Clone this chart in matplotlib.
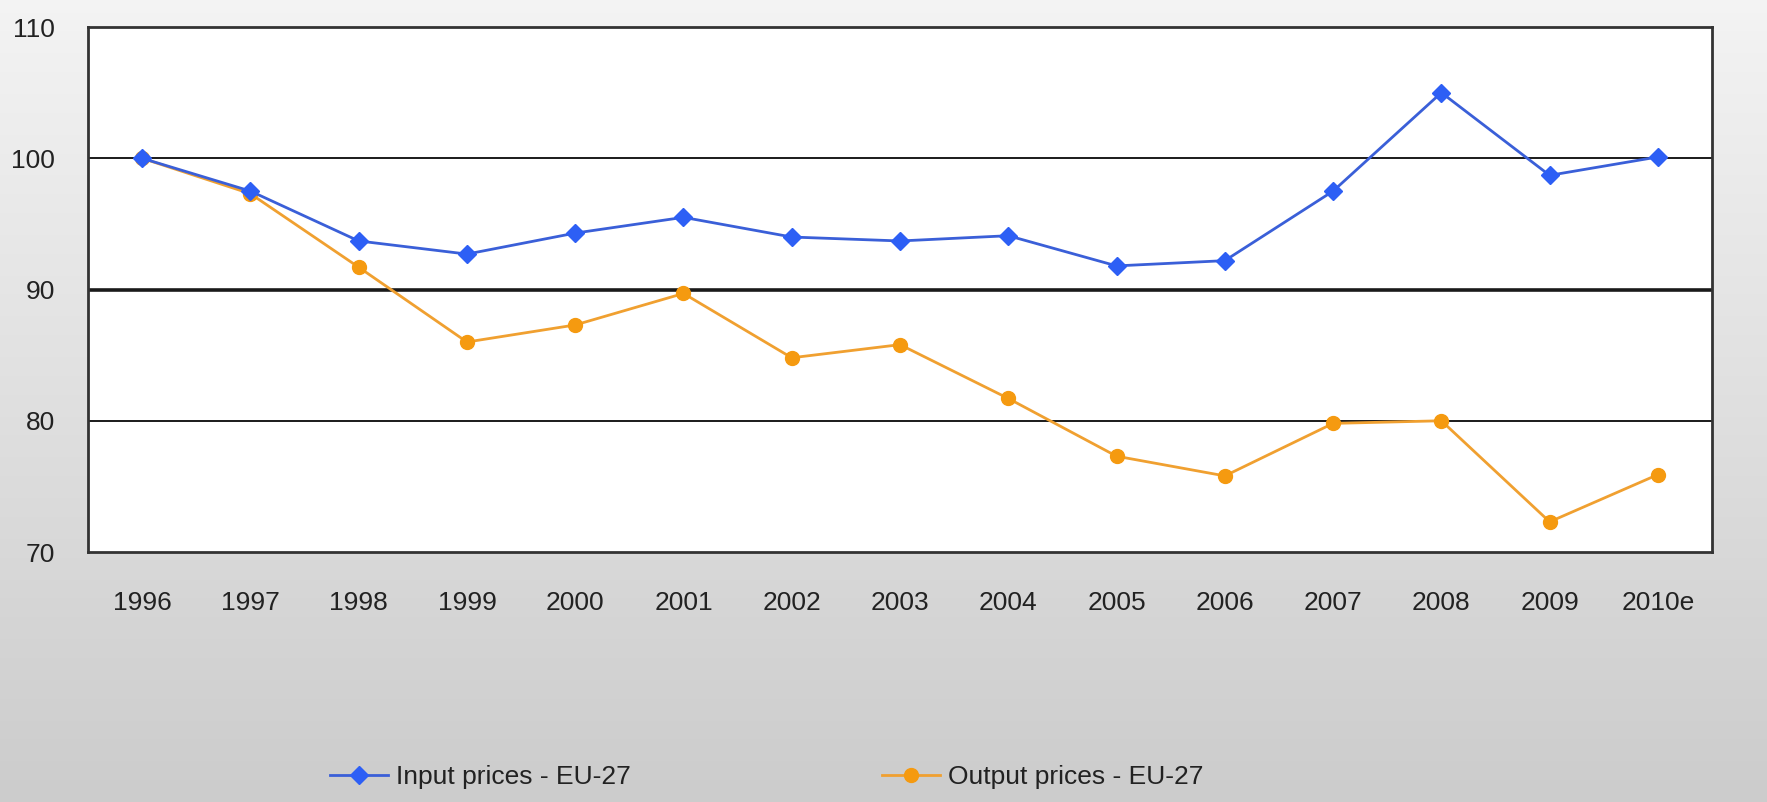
import numpy as np
import matplotlib
matplotlib.use("Agg")
import matplotlib.pyplot as plt
from matplotlib import font_manager

years = ["1996", "1997", "1998", "1999", "2000", "2001", "2002", "2003",
         "2004", "2005", "2006", "2007", "2008", "2009", "2010e"]
input_prices = [100.0, 97.5, 93.7, 92.7, 94.3, 95.5, 94.0, 93.7, 94.1,
                91.8, 92.2, 97.5, 105.0, 98.7, 100.1]
output_prices = [100.0, 97.3, 91.7, 86.0, 87.3, 89.7, 84.8, 85.8, 81.7,
                 77.3, 75.8, 79.8, 80.0, 72.3, 75.9]
y_ticks = [70, 80, 90, 100, 110]

names = {f.name for f in font_manager.fontManager.ttflist}
fam = ["Liberation Sans Narrow", "Liberation Sans", "DejaVu Sans"]
fam = [f for f in fam if f in names] or ["DejaVu Sans"]
plt.rcParams["font.family"] = fam

fig = plt.figure(figsize=(17.67, 8.02), dpi=100)

# background gradient
bg = fig.add_axes([0, 0, 1, 1], zorder=-10)
grad = np.linspace(0, 1, 256).reshape(-1, 1)
top = np.array([0.955, 0.955, 0.955])
bot = np.array([0.80, 0.80, 0.80])
img = top + (bot - top) * grad[..., None]
img = np.repeat(img, 2, axis=1)
bg.imshow(img, aspect="auto", extent=[0, 1, 0, 1], origin="upper")
bg.set_axis_off()

ax = fig.add_axes([0.0498, 0.3117, 0.9191, 0.6546])
ax.set_facecolor("white")
x = np.arange(len(years))

ax.plot(x, input_prices, color="#3a5fd8", lw=2.0, marker="D", ms=9,
        mfc="#2d5ff5", mec="#2d5ff5", label="Input prices - EU-27", zorder=4)
ax.plot(x, output_prices, color="#f0a030", lw=2.0, marker="o", ms=10,
        mfc="#f59a10", mec="#f59a10", label="Output prices - EU-27", zorder=3)

ax.set_xlim(-0.5, len(years) - 0.5)
ax.set_ylim(70, 110)
ax.set_yticks(y_ticks)
ax.set_xticks(x)
ax.set_xticklabels(years)
ax.tick_params(axis="both", length=0, labelsize=19, colors="#222222")
ax.tick_params(axis="y", pad=24)
ax.tick_params(axis="x", pad=28)
for t in y_ticks[1:-1]:
    ax.axhline(t, color="#1a1a1a", lw=2.6 if t == 90 else 1.4, zorder=1)
for s in ax.spines.values():
    s.set_color("#333333")
    s.set_linewidth(2.0)

leg = ax.legend(loc="upper center", bbox_to_anchor=(0.418, -0.36), ncol=2,
                frameon=False, fontsize=19, columnspacing=9.5,
                handlelength=2.2, handletextpad=0.3)
for t in leg.get_texts():
    t.set_color("#222222")

fig.savefig("out.png", dpi=100)
